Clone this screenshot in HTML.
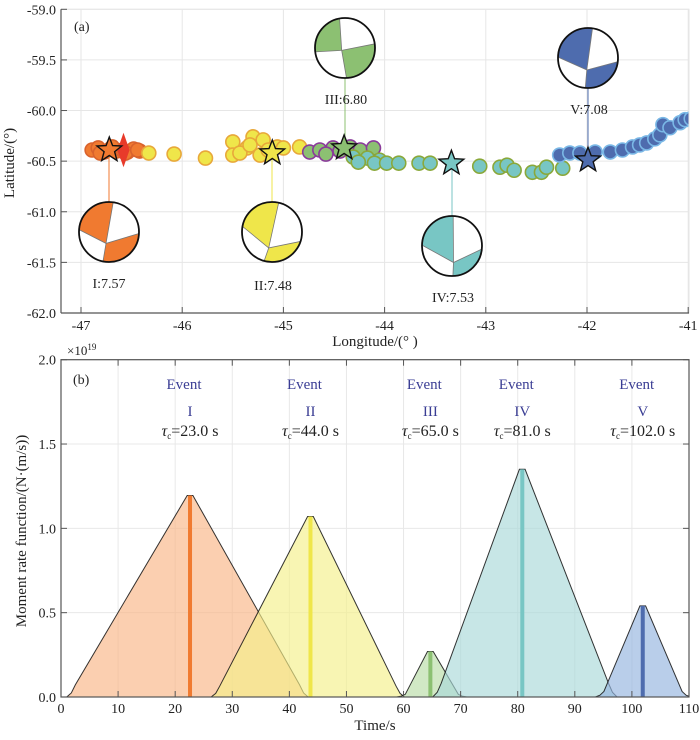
<!DOCTYPE html>
<html><head><meta charset="utf-8"><style>
body{margin:0;background:#fff}
svg text{font-family:"Liberation Serif",serif;fill:#222}
</style></head><body>
<svg id="fig" width="700" height="735" viewBox="0 0 700 735" xmlns="http://www.w3.org/2000/svg">
<defs>
<clipPath id="clipA"><rect x="61" y="9.3" width="628" height="303.7"/></clipPath>
<clipPath id="clipB"><rect x="61" y="359.7" width="628" height="337.3"/></clipPath>
</defs>
<g id="panelA"></g>
<g id="panelB"></g>
</svg>
<script>
// ---- Panel (a) data ----
const lonTicks = [-47,-46,-45,-44,-43,-42,-41];
const latTicks = [-59.0,-59.5,-60.0,-60.5,-61.0,-61.5,-62.0];
const orangeLon = [-46.89,-46.83,-46.77,-46.71,-46.65,-46.59,-46.54,-46.48,-46.42,-46.81,-46.69,-46.56,-46.44];
const orangeLat = [-60.39,-60.37,-60.41,-60.38,-60.40,-60.39,-60.41,-60.38,-60.40,-60.42,-60.36,-60.42,-60.39];
const yellowLon = [-46.33,-46.08,-45.77,-45.50,-45.30,-45.20,-45.36,-45.50,-45.23,-45.06,-45.00,-45.43,-44.84,-45.15,-45.33];
const yellowLat = [-60.42,-60.43,-60.47,-60.31,-60.26,-60.29,-60.37,-60.44,-60.44,-60.36,-60.37,-60.42,-60.36,-60.39,-60.34];
const greenLon = [-44.74,-44.64,-44.51,-44.34,-44.24,-44.11,-44.58,-44.44];
const greenLat = [-60.41,-60.39,-60.37,-60.36,-60.39,-60.37,-60.43,-60.40];
const tealLon = [-44.31,-44.17,-44.05,-44.26,-44.10,-43.98,-43.86,-43.66,-43.55,-43.06,-42.86,-42.79,-42.72,-42.54,-42.45,-42.40,-42.24];
const tealLat = [-60.46,-60.47,-60.49,-60.51,-60.52,-60.52,-60.52,-60.52,-60.52,-60.55,-60.56,-60.54,-60.59,-60.61,-60.61,-60.56,-60.57];
const blueLon = [-42.27,-42.17,-42.07,-41.92,-41.77,-41.65,-41.55,-41.48,-41.41,-41.33,-41.28,-41.25,-41.18,-41.08,-41.03,-40.97];
const blueLat = [-60.44,-60.42,-60.42,-60.41,-60.41,-60.39,-60.36,-60.34,-60.32,-60.28,-60.24,-60.14,-60.17,-60.12,-60.09,-60.08];
const starLon = [-46.72,-45.11,-44.40,-43.34,-41.99];
const starLat = [-60.39,-60.42,-60.37,-60.52,-60.49];
const magLabels = ["I:7.57","II:7.48","III:6.80","IV:7.53","V:7.08"];
// ---- Panel (b) data ----
const timeTicks = [0,10,20,30,40,50,60,70,80,90,100,110];
const rateTicks = [0.0,0.5,1.0,1.5,2.0];
const evStart = [1.0,26.3,58.8,65.1,93.6];
const evPeak = [22.6,43.7,64.7,80.8,101.9];
const evEnd = [43.3,60.2,71.1,97.4,110.3];
const evAmp = [1.195,1.07,0.27,1.35,0.54];
const evRoman = ["I","II","III","IV","V"];
const evTau = ["23.0","44.0","65.0","81.0","102.0"];

const NS="http://www.w3.org/2000/svg";
function mk(tag,attrs,parent){const e=document.createElementNS(NS,tag);for(const k in attrs)e.setAttribute(k,attrs[k]);parent.appendChild(e);return e;}
const lonX = v => 81 + (v+47)*101.2;
const latY = v => 9.3 + (-59 - v)*101.23;
const tX = v => 61 + v*5.709;
const rY = v => 697 - v*168.65;

const colFill = ["#f07a30","#efe64a","#8cc072","#78c6c4","#4e6cae"];
const colEdge = ["#d9622c","#e8a83a","#8a3a9a","#8aa83a","#7ab8e6"];
const A=document.getElementById('panelA'), B=document.getElementById('panelB');

lonTicks.forEach(v=>{const l=mk('line',{x1:lonX(v),x2:lonX(v),y1:9.3,y2:313,stroke:'#e6e6e6'},A);

});
latTicks.forEach(v=>{const l=mk('line',{x1:61,x2:689,y1:latY(v),y2:latY(v),stroke:'#e6e6e6'},A);

});

const gp = mk('g',{'clip-path':'url(#clipA)'},A);


function dots(lons,lats,i){lons.forEach((v,j)=>{const c=mk('circle',{cx:lonX(v),cy:latY(lats[j]),r:7,fill:colFill[i],stroke:colEdge[i],'stroke-width':1.6},gp);

});}
dots(orangeLon,orangeLat,0);
const rd=mk('polygon',{points:`${lonX(-46.58)},${latY(-60.22)} ${lonX(-46.52)},${latY(-60.39)} ${lonX(-46.58)},${latY(-60.56)} ${lonX(-46.64)},${latY(-60.39)}`,fill:'#e83a2a'},gp);


dots(yellowLon,yellowLat,1);
dots(greenLon,greenLat,2);
dots(tealLon,tealLat,3);
dots(blueLon,blueLat,4);

const balls=[
 {cx:109,cy:232,lx:109,ly:283,t:[0.14,-0.99],b:[-0.2,0.98],l:[-1,-0.08],r:[1,0.05],i:[-0.1,0.38]},
 {cx:272,cy:232,lx:273,ly:285,t:[0.22,-0.97],b:[-0.26,0.96],l:[-1,-0.2],r:[0.97,0.31],i:[-0.11,0.53]},
 {cx:345,cy:48,lx:346,ly:99,t:[-0.18,-0.98],b:[0.05,1],l:[-1,0.13],r:[1,-0.14],i:[-0.11,0.08]},
 {cx:452,cy:246,lx:453,ly:297,t:[0.04,-1],b:[0.03,1],l:[-1,-0.03],r:[1,0.1],i:[0.05,0.55]},
 {cx:588,cy:58,lx:589,ly:109,t:[0.15,-0.99],b:[-0.09,1],l:[-1,-0.03],r:[1,0.12],i:[-0.04,0.4]}
];
const R=30;
balls.forEach((bb,k)=>{
 const sy=latY(starLat[k]);
 const lineY = bb.cy<sy ? bb.cy+R : bb.cy-R;
 const ln=mk('line',{x1:bb.cx,y1:sy,x2:bb.cx,y2:lineY,stroke:colFill[k],'stroke-width':1},A);
 
 
 const g=mk('g',{},A);
 
 
 const cid='bc'+k;
 const cp=mk('clipPath',{id:cid},g); mk('circle',{cx:bb.cx,cy:bb.cy,r:R},cp);
 mk('circle',{cx:bb.cx,cy:bb.cy,r:R,fill:'#fff'},g);
 const P=p=>[bb.cx+p[0]*R,bb.cy+p[1]*R];
 const T=P(bb.t),Bt=P(bb.b),L=P(bb.l),Rt=P(bb.r),I=P(bb.i);
 const tl=[I,T,[T[0],bb.cy-2*R],[bb.cx-2*R,bb.cy-2*R],[bb.cx-2*R,L[1]],L];
 const br=[I,Bt,[Bt[0],bb.cy+2*R],[bb.cx+2*R,bb.cy+2*R],[bb.cx+2*R,Rt[1]],Rt];
 [tl,br].forEach(q=>mk('polygon',{points:q.map(p=>p.join(',')).join(' '),fill:colFill[k],'clip-path':`url(#${cid})`},g));
 mk('polyline',{points:[T,I,Bt].map(p=>p.join(',')).join(' '),fill:'none',stroke:'#777','stroke-width':0.8},g);
 mk('polyline',{points:[L,I,Rt].map(p=>p.join(',')).join(' '),fill:'none',stroke:'#777','stroke-width':0.8},g);
 mk('circle',{cx:bb.cx,cy:bb.cy,r:R,fill:'none',stroke:'#111','stroke-width':1.8},g);
 const tx=mk('text',{x:bb.lx,y:bb.ly+5,'text-anchor':'middle','font-size':14},A);
 
 
 tx.textContent=magLabels[k];
});
function starPts(cx,cy,ro,ri){let s=[];for(let i=0;i<10;i++){const a=-Math.PI/2+i*Math.PI/5;const r=i%2?ri:ro;s.push((cx+r*Math.cos(a)).toFixed(1)+','+(cy+r*Math.sin(a)).toFixed(1));}return s.join(' ');}
starLon.forEach((v,k)=>{const s=mk('polygon',{points:starPts(lonX(v),latY(starLat[k]),13,5.5),fill:colFill[k],stroke:'#111','stroke-width':1.4},A);

});

mk('rect',{x:61,y:9.3,width:628,height:303.7,fill:'none',stroke:'#e6e6e6'},A);
mk('line',{x1:61,y1:9.3,x2:61,y2:313,stroke:'#555','stroke-width':1.2},A);
mk('line',{x1:61,y1:313,x2:689,y2:313,stroke:'#555','stroke-width':1.2},A);
lonTicks.forEach(v=>{mk('line',{x1:lonX(v),x2:lonX(v),y1:313,y2:307,stroke:'#555'},A);
 const t=mk('text',{x:lonX(v),y:330,'text-anchor':'middle','font-size':14},A);
 
 
 t.textContent=v;});
latTicks.forEach(v=>{mk('line',{x1:61,x2:67,y1:latY(v),y2:latY(v),stroke:'#555'},A);
 const t=mk('text',{x:56,y:latY(v)+5,'text-anchor':'end','font-size':14},A);
 
 
 t.textContent=v.toFixed(1);});
let t=mk('text',{x:375,y:346,'text-anchor':'middle','font-size':15},A);


t.textContent='Longitude/(° )';
t=mk('text',{x:0,y:0,'text-anchor':'middle','font-size':15,transform:'translate(14,163) rotate(-90)'},A);


t.textContent='Latitude/(°)';
t=mk('text',{x:74,y:31,'font-size':14},A);


t.textContent='(a)';

timeTicks.forEach(v=>{const l=mk('line',{x1:tX(v),x2:tX(v),y1:359.7,y2:697,stroke:'#e8e8e8'},B);

});
rateTicks.forEach(v=>{const l=mk('line',{x1:61,x2:689,y1:rY(v),y2:rY(v),stroke:'#e8e8e8'},B);

});
const fillB=["#f9b585","#f5f08a","#b8dca6","#a9d8d8","#93b3df"];
const gb=mk('g',{'clip-path':'url(#clipB)'},B);
evPeak.forEach((p,k)=>{
 const s=evStart[k],e=evEnd[k],a=evAmp[k];
 const pts=[[s,0],[s+0.8,a*0.02],[s+1.5,a*0.06],[p-0.5,a],[p+0.5,a],[e-1.5,a*0.06],[e-0.8,a*0.02],[e,0]].map(q=>tX(q[0]).toFixed(1)+','+rY(q[1]).toFixed(1)).join(' ');
 const pg=mk('polygon',{points:pts,fill:fillB[k],'fill-opacity':0.65,stroke:'#111','stroke-width':1,'stroke-opacity':0.85},gb);
 
 
 const bar=mk('line',{x1:tX(p),x2:tX(p),y1:rY(0),y2:rY(a),stroke:colFill[k],'stroke-width':4},gb);
 
 
 const cx=tX(p);
 let x1=mk('text',{x:cx-6,y:389,'text-anchor':'middle','font-size':15,style:'fill:#3a3d94'},B);
 
 
 x1.textContent='Event';
 let x2=mk('text',{x:cx,y:416,'text-anchor':'middle','font-size':15,style:'fill:#3a3d94'},B);
 
 
 x2.textContent=evRoman[k];
 let x3=mk('text',{x:cx,y:436,'text-anchor':'middle','font-size':16},B);
 
 
 x3.innerHTML='<tspan font-style="italic">τ</tspan><tspan font-size="9" dy="3">c</tspan><tspan dy="-3">='+evTau[k]+' s</tspan>';
});
mk('rect',{x:61,y:359.7,width:628,height:337.3,fill:'none',stroke:'#555','stroke-width':1.2},B);
timeTicks.forEach(v=>{mk('line',{x1:tX(v),x2:tX(v),y1:697,y2:691,stroke:'#555'},B);mk('line',{x1:tX(v),x2:tX(v),y1:359.7,y2:365.7,stroke:'#555'},B);
 const t=mk('text',{x:tX(v),y:713,'text-anchor':'middle','font-size':14},B);
 
 
 t.textContent=v;});
rateTicks.forEach(v=>{mk('line',{x1:61,x2:67,y1:rY(v),y2:rY(v),stroke:'#555'},B);mk('line',{x1:683,x2:689,y1:rY(v),y2:rY(v),stroke:'#555'},B);
 const t=mk('text',{x:56,y:rY(v)+5,'text-anchor':'end','font-size':14},B);
 
 
 t.textContent=v.toFixed(1);});
t=mk('text',{x:67,y:355,'font-size':13},B);


t.innerHTML='×10<tspan font-size="9" dy="-5">19</tspan>';
t=mk('text',{x:375,y:730,'text-anchor':'middle','font-size':15},B);


t.textContent='Time/s';
t=mk('text',{x:0,y:0,'text-anchor':'middle','font-size':15,transform:'translate(26,531) rotate(-90)'},B);


t.textContent='Moment rate function/(N·(m/s))';
t=mk('text',{x:73,y:384,'font-size':14},B);


t.textContent='(b)';
</script>
</body></html>
